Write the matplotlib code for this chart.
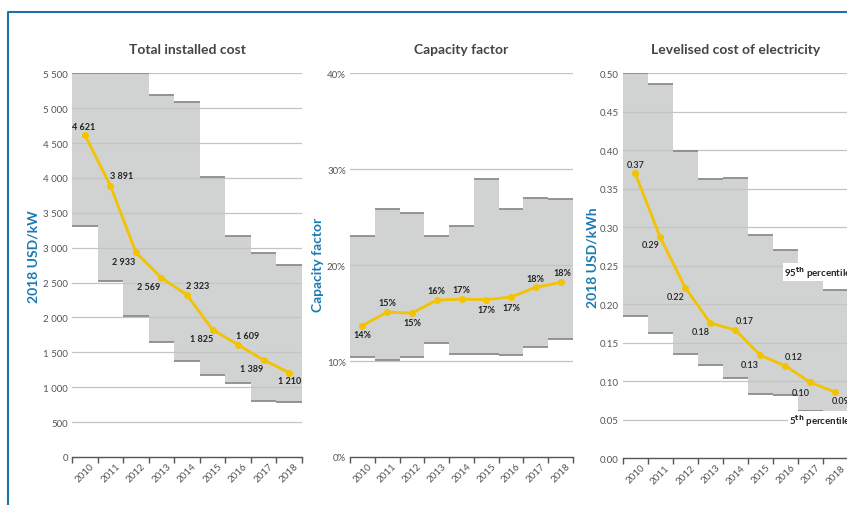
import matplotlib
matplotlib.use("Agg")
import matplotlib.pyplot as plt
import numpy as np
from matplotlib.lines import Line2D
from matplotlib.ticker import FuncFormatter

## ---------------------------------------------------------------------------
## Data
## ---------------------------------------------------------------------------
years = ['2010', '2011', '2012', '2013', '2014', '2015', '2016', '2017', '2018']

# Total installed cost (2018 USD/kW)
cost_mean = [4621, 3891, 2933, 2569, 2323, 1825, 1609, 1389, 1210]
cost_p95 = [5500, 5500, 5500, 5190, 5090, 4016, 3170, 2918, 2751]
cost_p05 = [3305, 2526, 2016, 1652, 1380, 1170, 1060, 807, 788]
cost_labels = ['4 621', '3 891', '2 933', '2 569', '2 323', '1 825', '1 609', '1 389', '1 210']

# Capacity factor (%)
cf_mean = [13.7, 15.1, 15.0, 16.35, 16.46, 16.4, 16.67, 17.7, 18.2]
cf_p95 = [23.0, 25.9, 25.45, 23.0, 24.1, 28.96, 25.9, 26.98, 26.9]
cf_p05 = [10.45, 10.07, 10.45, 11.84, 10.76, 10.76, 10.66, 11.43, 12.29]
cf_labels = ['14%', '15%', '15%', '16%', '17%', '17%', '17%', '18%', '18%']

# Levelised cost of electricity (2018 USD/kWh)
lcoe_mean = [0.370, 0.287, 0.2216, 0.1757, 0.1666, 0.1338, 0.1199, 0.0987, 0.0857]
lcoe_p95 = [0.500, 0.486, 0.399, 0.363, 0.364, 0.290, 0.271, 0.232, 0.219]
lcoe_p05 = [0.185, 0.163, 0.136, 0.1216, 0.1047, 0.0839, 0.0818, 0.0618, 0.0597]
lcoe_labels = ['0.37', '0.29', '0.22', '0.18', '0.17', '0.13', '0.12', '0.10', '0.09']

## ---------------------------------------------------------------------------
## Styling
## ---------------------------------------------------------------------------
plt.rcParams['font.family'] = ['Lato', 'DejaVu Sans']

FILL = '#d1d2d2'
EDGE = '#8c8c8c'
GRID = '#c4c4c4'
YELLOW = '#f3c300'
BLUE = '#1a7ab5'
TXT = '#555555'

W, H = 847, 506
fig = plt.figure(figsize=(W / 100, H / 100), dpi=100)


def px_axes(x0, x1, ytop, ybot):
    return fig.add_axes([x0 / W, 1 - ybot / H, (x1 - x0) / W, (ybot - ytop) / H])


# label offsets (points) for each panel
cost_off = [(-1, 6), (8, 7), (-9, -6.5), (-9, -6), (8, 7), (-8, -6), (7, 7), (-9, -6), (0, -6)]
cf_off = [(0, -6.5), (0, 7), (0, -7), (0, 7), (0, 7), (0, -7), (0, -7.5), (0, 6.5), (1, 7)]
lcoe_off = [(0, 6.5), (-7, -5.5), (-7, -6), (-7, -6), (6.5, 6.5), (-7.5, -6.5), (6, 7), (-7, -7), (4, -6)]


def panel(ax, mean, p95, p05, labels, offsets, ylim, yticks, fmt, title, label_weight='bold'):
    x = np.arange(len(years))
    edges = np.arange(len(years) + 1) - 0.5
    ax.stairs(p95, edges, baseline=p05, fill=True, color=FILL, lw=0, zorder=1)
    ax.hlines(p95, edges[:-1], edges[1:], color=EDGE, lw=1.3, zorder=3)
    ax.hlines(p05, edges[:-1], edges[1:], color=EDGE, lw=1.3, zorder=3)
    for t in yticks[1:]:
        ax.axhline(t, color=GRID, lw=0.9, zorder=2)
    ax.plot(x, mean, color=YELLOW, lw=2, marker='o', ms=4, zorder=4)
    for xi, yi, lab, off in zip(x, mean, labels, offsets):
        ax.annotate(lab, (xi, yi), xytext=off, textcoords='offset points',
                    ha='center', va='center', fontsize=6.5, fontweight=label_weight,
                    color='#222222', zorder=5)
    ax.set_xlim(-0.5, len(years) - 0.5)
    ax.set_ylim(*ylim)
    ax.set_yticks(yticks)
    ax.yaxis.set_major_formatter(FuncFormatter(fmt))
    ax.tick_params(axis='y', length=0, pad=3, labelsize=7, labelcolor=TXT)
    ax.set_xticks(edges)
    ax.set_xticklabels([])
    ax.set_xticks(x, minor=True)
    ax.set_xticklabels(years, minor=True, rotation=45, fontsize=7, color=TXT)
    ax.tick_params(axis='x', which='major', length=4, width=1, color='#555555')
    ax.tick_params(axis='x', which='minor', length=0, pad=3)
    for s in ['top', 'right', 'left']:
        ax.spines[s].set_visible(False)
    ax.spines['bottom'].set_color('#555555')
    ax.spines['bottom'].set_linewidth(1)
    ax.text(0.5, 1.063, title, transform=ax.transAxes, ha='center', va='center',
            fontsize=10, fontweight='bold', color='#444444')


ax1 = px_axes(72, 302, 74.3, 458)
panel(ax1, cost_mean, cost_p95, cost_p05, cost_labels, cost_off, (0, 5500),
      np.arange(0, 5501, 500), lambda v, p: f'{int(v):,}'.replace(',', ' '),
      'Total installed cost')

ax2 = px_axes(350, 573, 74.3, 458)
panel(ax2, cf_mean, cf_p95, cf_p05, cf_labels, cf_off, (0, 40),
      np.arange(0, 41, 10), lambda v, p: f'{int(v)}%', 'Capacity factor')

ax3 = px_axes(622.7, 848, 74.3, 459.3)
panel(ax3, lcoe_mean, lcoe_p95, lcoe_p05, lcoe_labels, lcoe_off, (0, 0.5),
      np.arange(0, 0.501, 0.05), lambda v, p: f'{v:.2f}',
      'Levelised cost of electricity', label_weight='semibold')
ax3.text(5.95, 0.242, '95$^{\\mathbf{th}}$ percentile', ha='left', va='center',
         fontsize=7, fontweight='bold', color='#222222', zorder=6,
         bbox=dict(facecolor='white', edgecolor='none', pad=1))
ax3.text(6.16, 0.050, '5$^{\\mathbf{th}}$ percentile', ha='left', va='center',
         fontsize=7, fontweight='bold', color='#222222', zorder=6,
         bbox=dict(facecolor='white', edgecolor='none', pad=1))

# axis titles
fig.text(33 / W, 1 - 257 / H, '2018 USD/kW', rotation=90, ha='center', va='center',
         fontsize=10, fontweight='bold', color=BLUE)
fig.text(318 / W, 1 - 265 / H, 'Capacity factor', rotation=90, ha='center', va='center',
         fontsize=10, fontweight='bold', color=BLUE)
fig.text(592 / W, 1 - 258 / H, '2018 USD/kWh', rotation=90, ha='center', va='center',
         fontsize=10, fontweight='bold', color=BLUE)

# blue frame (top and left)
fig.add_artist(Line2D([8 / W, 8 / W, 1], [0, 1 - 13 / H, 1 - 13 / H],
                      transform=fig.transFigure, color='#1c74a6', lw=1.5))

fig.savefig('out.png', dpi=100)
